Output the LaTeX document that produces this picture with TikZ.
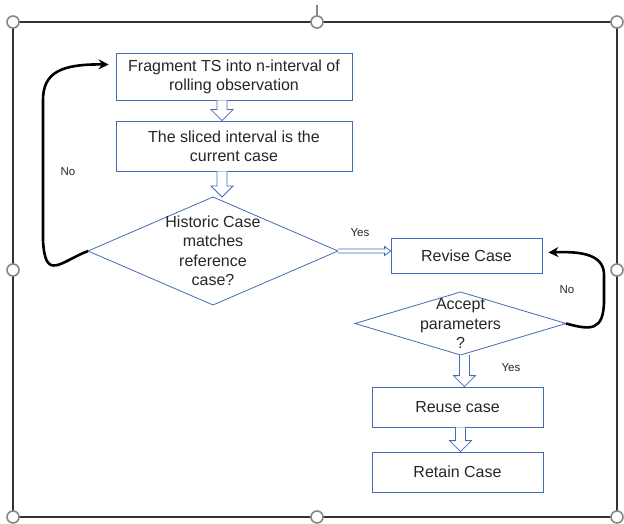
\documentclass[tikz,border=0pt]{standalone}
\usepackage{fontspec}
\setmainfont{Liberation Sans}
\usetikzlibrary{arrows.meta,shapes.geometric,calc}

\definecolor{boxblue}{RGB}{68,108,180}
\definecolor{handlegray}{RGB}{135,135,135}
\definecolor{inkgray}{RGB}{38,38,38}

% hollow block arrows between two anchors
\newcommand{\blockdown}[2]{%
  \draw[blockarrow] let \p1=(#1), \p2=(#2) in
    (\x1-5pt,\y1) -- (\x1-5pt,\y2+11pt) -- (\x1-11pt,\y2+11pt) -- (\x1,\y2)
    -- (\x1+11pt,\y2+11pt) -- (\x1+5pt,\y2+11pt) -- (\x1+5pt,\y1);}
\newcommand{\blockright}[2]{%
  \draw[blockarrow] let \p1=(#1), \p2=(#2) in
    (\x1,\y1+2pt) -- (\x2-6pt,\y1+2pt) -- (\x2-6pt,\y1+4.5pt) -- (\x2,\y1)
    -- (\x2-6pt,\y1-4.5pt) -- (\x2-6pt,\y1-2pt) -- (\x1,\y1-2pt);}

\begin{document}
\begin{tikzpicture}[x=1pt, y=-1pt,
    procbox/.style={draw=boxblue, line width=0.8pt, fill=white, align=center, text=inkgray,
      inner sep=2pt, font=\fontsize{16}{19}\selectfont},
    decision/.style={diamond, draw=boxblue, line width=0.8pt, inner sep=0pt, outer sep=0pt},
    dectext/.style={align=center, text=inkgray, font=\fontsize{16}{19.5}\selectfont},
    blockarrow/.style={draw=boxblue, line width=0.8pt, fill=white},
    loopline/.style={draw=black, line width=2.6pt, -{Stealth[length=10pt,width=10pt]}},
    lbl/.style={text=inkgray, font=\fontsize{11.5}{13}\selectfont},
    handle/.style={draw=handlegray, line width=1.6pt, fill=white}]
    \useasboundingbox (0,0) rectangle (624,524);

    % selection frame
    \draw[line width=1.5pt, draw=black!80] (13,22) rectangle (617,517);
    \draw[handlegray, line width=1.2pt] (317,5) -- (317,16);
    \foreach \hx/\hy in {13/22,317/22,617/22,13/270,617/270,13/517,317/517,617/517}
        \draw[handle] (\hx,\hy) circle (6pt);

    \node[procbox, minimum width=236pt, minimum height=47pt] (frag) at (234,76.5)
        {Fragment TS into n-interval of\\rolling observation};
    \node[procbox, minimum width=236pt, minimum height=50pt] (slice) at (234,146)
        {The sliced interval is the\\current case};
    \node[decision, minimum width=250pt, minimum height=108pt,
        label={[dectext]center:{Historic Case\\matches\\reference\\case?}}] (match) at (213,251) {};
    \node[procbox, minimum width=151pt, minimum height=35pt] (revise) at (466.5,255.5) {Revise Case};
    \node[decision, minimum width=211pt, minimum height=63pt,
        label={[dectext]center:{Accept\\parameters\\?}}] (accept) at (460.5,323.5) {};
    \node[procbox, minimum width=171pt, minimum height=40pt] (reuse) at (457.5,407) {Reuse case};
    \node[procbox, minimum width=171pt, minimum height=40pt] (retain) at (457.5,472) {Retain Case};

    \node[lbl] (nol) at (68,172) {No};
    \node[lbl] (yesr) at (360,233) {Yes};
    \node[lbl] (nor) at (567,290) {No};
    \node[lbl] (yesd) at (511,368) {Yes};

    \blockdown{[xshift=-12pt]frag.south}{slice.north}
    \blockdown{[xshift=-12pt]slice.south}{match.north}
    \blockright{match.east}{revise.west}
    \blockdown{[xshift=4pt]accept.south}{reuse.north}
    \blockdown{[xshift=3pt]reuse.south}{retain.north}

    \draw[loopline] (match.west) .. controls (60,262) and (45,282) .. (43,240) -- (43,100)
        .. controls (43,72) and (62,64) .. ([xshift=-7pt,yshift=12pt]frag.west);
    \draw[loopline] (accept.east) .. controls (590,330) and (604,332) .. (604,300) -- (604,275)
        .. controls (604,256) and (585,251) .. ([xshift=6pt,yshift=3pt]revise.east);
\end{tikzpicture}
\end{document}
